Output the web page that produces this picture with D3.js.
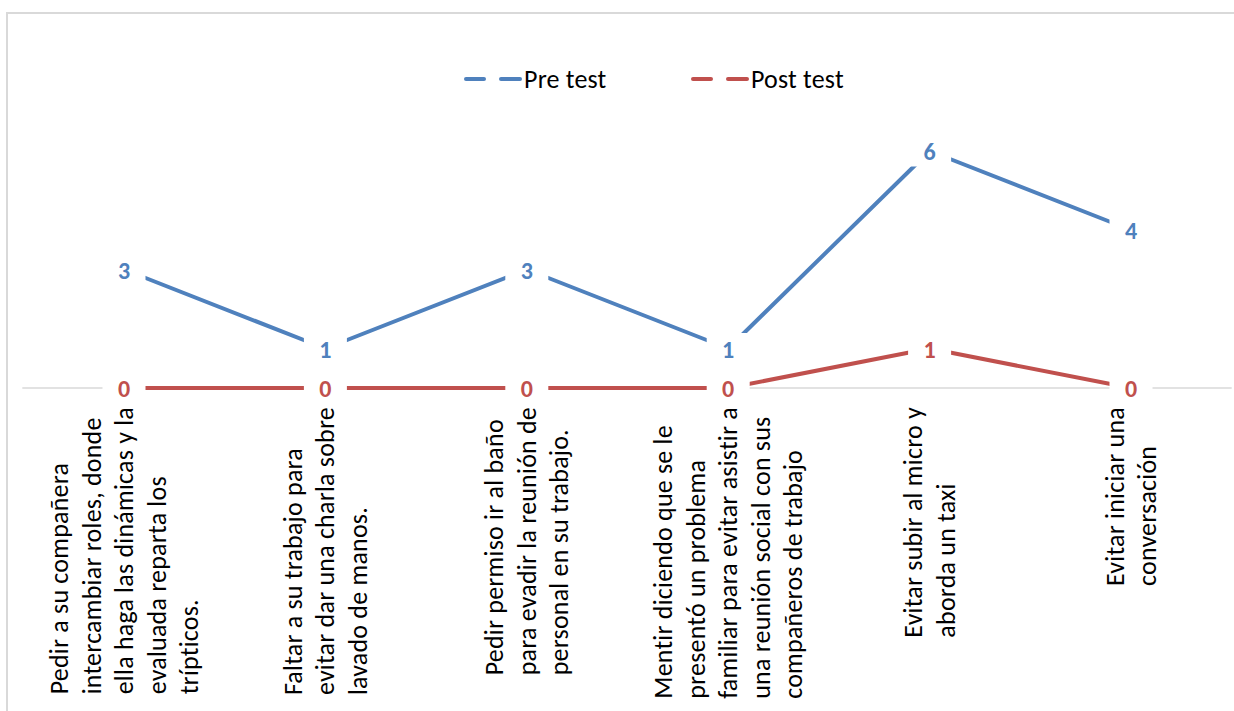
<!DOCTYPE html>
<html>
<head>
<meta charset="utf-8">
<script src="https://cdn.jsdelivr.net/npm/d3@7"></script>
<style>
  html, body { margin: 0; padding: 0; background: #fff; }
  svg { display: block; }
  text { font-family: Carlito, Calibri, Lato, "Open Sans", sans-serif; }
</style>
</head>
<body>
<svg id="chart" width="1234" height="711"></svg>
<script>
// Conductas de evitación registradas antes y después de la intervención
const categories = [
  ["Pedir a su compañera", "intercambiar roles, donde", "ella haga las dinámicas y la", "evaluada reparta los", "trípticos."],
  ["Faltar a su trabajo para", "evitar dar una charla sobre", "lavado de manos."],
  ["Pedir permiso ir al baño", "para evadir la reunión de", "personal en su trabajo."],
  ["Mentir diciendo que se le", "presentó un problema", "familiar para evitar asistir a", "una reunión social con sus", "compañeros de trabajo"],
  ["Evitar subir al micro y", "aborda un taxi"],
  ["Evitar iniciar una", "conversación"]
];
const preTest = [3, 1, 3, 1, 6, 4];
const postTest = [0, 0, 0, 0, 1, 0];
const seriesNames = ["Pre test", "Post test"];
const seriesColors = ["#4F81BD", "#C0504D"];

const svg = d3.select("#chart");
const W = 1234, H = 711;

// chart frame
svg.append("rect")
  .attr("x", 7).attr("y", 13)
  .attr("width", W + 20).attr("height", H + 20)
  .attr("fill", "#fff")
  .attr("stroke", "#D9D9D9").attr("stroke-width", 2);

const keys = categories.map((c, i) => i);
const x = d3.scaleBand().domain(keys).range([23.3, 1231.7]);
const y = d3.scaleLinear().domain([0, 7]).range([388, 111.5]);
const cx = i => x(i) + x.bandwidth() / 2;

// horizontal category axis
const axisG = svg.append("g").attr("transform", `translate(0,${y(0)})`);
axisG.call(d3.axisBottom(x).tickSize(0).tickFormat(""));
axisG.select(".domain").attr("stroke", "#D9D9D9").attr("stroke-width", 1.5)
  .attr("d", `M${x.range()[0] - 1},0H${x.range()[1]}`);

// wrapped, rotated category labels
const labelFont = 26, lineH = 32.5, labelTop = 407;
categories.forEach((lines, i) => {
  const g = svg.append("g");
  const texts = lines.map((ln, k) => g.append("text")
    .attr("font-size", labelFont)
    .attr("letter-spacing", 0.2)
    .attr("fill", "#000")
    .attr("text-anchor", "start")
    .text(ln));
  const maxLen = d3.max(texts, t => t.node().getComputedTextLength());
  const n = lines.length;
  texts.forEach((t, k) => {
    const bx = cx(i) - (n - 1) / 2 * lineH + k * lineH + 9;
    t.attr("transform", `translate(${bx},${labelTop + maxLen}) rotate(-90)`);
  });
});

// series lines
const series = [preTest, postTest];
const line = d3.line().x((d, i) => cx(i)).y(d => y(d));
series.forEach((vals, s) => {
  svg.append("path")
    .datum(vals)
    .attr("d", line)
    .attr("fill", "none")
    .attr("stroke", seriesColors[s])
    .attr("stroke-width", 4)
    .attr("stroke-linejoin", "round");
});

// data labels on white boxes centred on each point
series.forEach((vals, s) => {
  const g = svg.append("g");
  vals.forEach((v, i) => {
    g.append("rect")
      .attr("x", cx(i) - 21.5).attr("y", y(v) - 15.5)
      .attr("width", 43).attr("height", 31)
      .attr("fill", "#fff");
  });
  vals.forEach((v, i) => {
    g.append("text")
      .attr("x", cx(i)).attr("y", y(v) + 9)
      .attr("text-anchor", "middle")
      .attr("font-size", 24).attr("font-weight", "bold")
      .attr("fill", seriesColors[s])
      .text(v);
  });
});

// legend
const legendX = [466, 693];
const legend = svg.append("g");
seriesNames.forEach((name, s) => {
  const lx = legendX[s];
  const g = legend.append("g").attr("transform", `translate(${lx},79)`);
  g.append("line").attr("x1", 0).attr("x2", 18).attr("y1", 0).attr("y2", 0)
    .attr("stroke", seriesColors[s]).attr("stroke-width", 4).attr("stroke-linecap", "round");
  g.append("line").attr("x1", 35).attr("x2", 54).attr("y1", 0).attr("y2", 0)
    .attr("stroke", seriesColors[s]).attr("stroke-width", 4).attr("stroke-linecap", "round");
  g.append("text").attr("x", 58).attr("y", 9)
    .attr("font-size", 26).attr("letter-spacing", 0.2).attr("fill", "#000").text(name);
});
</script>
</body>
</html>
